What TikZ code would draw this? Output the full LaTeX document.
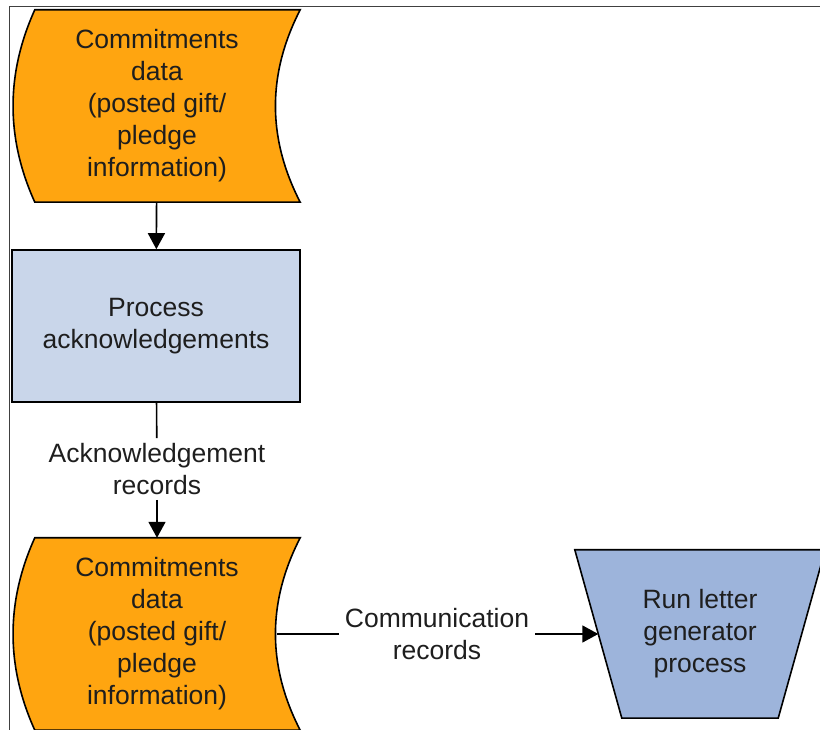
\documentclass[tikz,border=0pt]{standalone}
\usepackage{fontspec}
\setmainfont{Liberation Sans}
\usetikzlibrary{arrows.meta, positioning, shapes.geometric, calc, backgrounds}

\definecolor{dataorange}{HTML}{FFA510}
\definecolor{procblue}{HTML}{C9D6EA}
\definecolor{runblue}{HTML}{9DB4DB}
\definecolor{inkgray}{HTML}{1E1E1E}

% outline of a stored-data node (curved sides)
\newcommand{\datashape}[1]{%
  \draw[shapeline, fill=dataorange]
    ($(#1.north west)+(22,0)$) -- ($(#1.north east)+(-1,0)$)
    .. controls ($(#1.north east)+(-34,-64)$) and ($(#1.south east)+(-34,64)$) ..
    ($(#1.south east)+(-1,0)$) -- ($(#1.south west)+(22,0)$)
    .. controls ($(#1.south west)+(-7,64)$) and ($(#1.north west)+(-7,-64)$) ..
    cycle;}
% outline of a manual-operation node (wide top)
\newcommand{\runshape}[1]{%
  \draw[shapeline, fill=runblue]
    (#1.north west) -- (#1.north east)
    -- ($(#1.south east)+(-47,0)$) -- ($(#1.south west)+(47,0)$) -- cycle;}

\begin{document}
\begin{tikzpicture}[x=1pt, y=1pt, font=\fontsize{26.5}{32}\selectfont,
  every node/.style={text=inkgray, align=center},
  datanode/.style={minimum width=288, minimum height=192, inner sep=0pt},
  shapeline/.style={draw=black, line width=1.6pt},
  procbox/.style={draw=black, line width=1.6pt, fill=procblue, minimum width=288, minimum height=152},
  runnode/.style={minimum width=250, minimum height=168, inner sep=0pt},
  flow/.style={-{Triangle[length=16pt, width=17pt]}, line width=1.6pt},
  flowline/.style={line width=1.6pt}]
  \useasboundingbox (0,0) rectangle (820,730);

  % Frame
  \draw[black!75, line width=0.9pt] (9,0) -- (9,724) -- (820,724);

  % Nodes
  \node[datanode] (data1) at (157,624) {Commitments\\data\\(posted gift/\\pledge\\information)};
  \node[procbox] (proc) at (156,404) {Process\\acknowledgements};
  \node[inner sep=5pt] (acklbl) at (157,261) {Acknowledgement\\records};
  \node[datanode] (data2) at (157,96) {Commitments\\data\\(posted gift/\\pledge\\information)};
  \node[inner sep=6pt] (commlbl) at (437,96) {Communication\\records};
  \node[runnode] (run) at (700,96) {Run letter\\generator\\process};

  % Shape outlines
  \begin{scope}[on background layer]
    \datashape{data1}
    \datashape{data2}
    \runshape{run}
  \end{scope}

  % Connectors
  \draw[flow] (data1) -- (proc);
  \draw[flowline] (proc) -- (acklbl);
  \draw[flow] (acklbl) -- (data2);
  \draw[flowline] ($(data2.east)+(-24,0)$) -- (commlbl);
  \draw[flow] (commlbl) -- ($(run.west)+(23.5,0)$);
\end{tikzpicture}
\end{document}
